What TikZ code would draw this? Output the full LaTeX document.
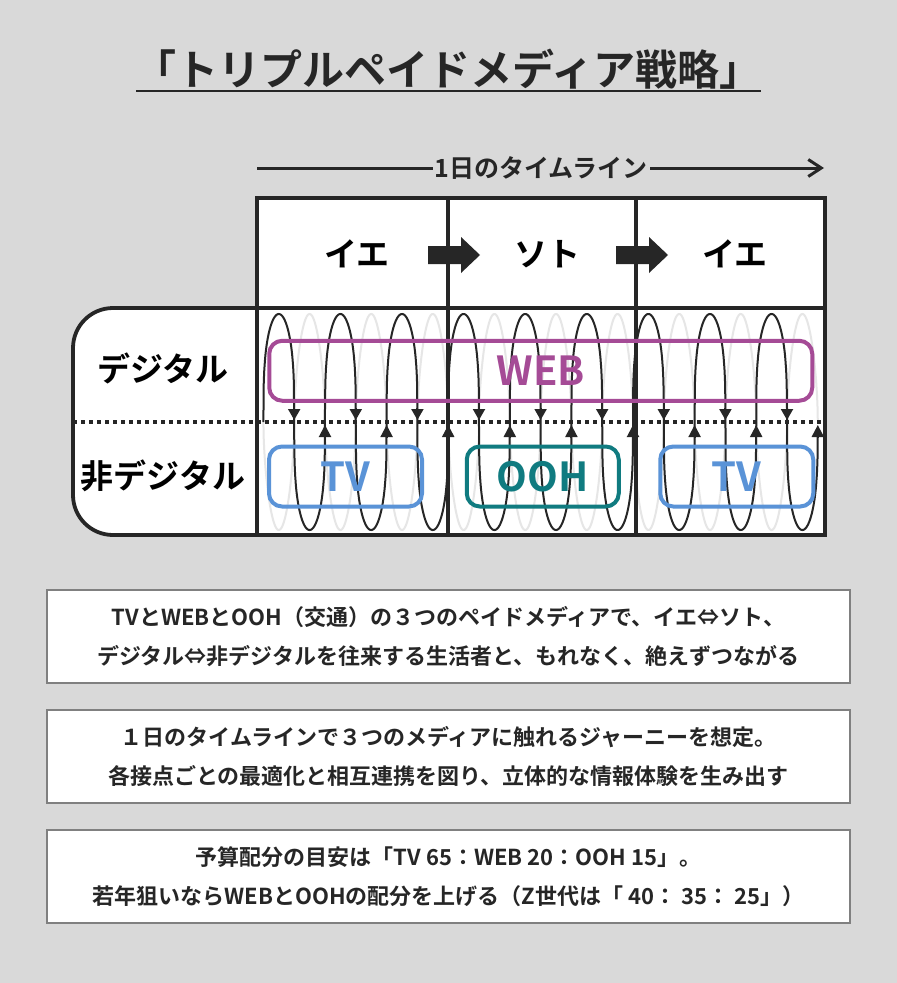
\documentclass[tikz,border=0pt]{standalone}
\usepackage{fontspec}
\setmainfont{Noto Sans CJK JP}[BoldFont={* Bold}]
\usepackage{tikz}
\usetikzlibrary{arrows.meta}
\definecolor{tpbg}{RGB}{217,217,217}
\definecolor{tpdark}{RGB}{38,38,38}
\definecolor{tppurple}{RGB}{165,75,150}
\definecolor{tpblue}{RGB}{90,147,215}
\definecolor{tpteal}{RGB}{16,123,128}
\definecolor{tpgray}{RGB}{128,128,128}
\definecolor{tpwave}{RGB}{230,230,230}

\begin{document}
\begin{tikzpicture}[x=1pt, y=-1pt,
    declare function={coil(\t)=sin(\t)*pow(abs(sin(\t))+0.0001,-0.7);
                      backcoil(\t)=sin(\t)*pow(abs(sin(\t))+0.0001,-0.45);},
    gridline/.style={draw=tpdark, line width=3.8pt},
    bigtext/.style={font=\bfseries\fontsize{33}{33}\selectfont, text=black},
    mediabox/.style={rounded corners=13pt, line width=4pt, minimum height=60pt, inner sep=0pt, font=\bfseries\fontsize{40}{40}\selectfont},
    notebox/.style={draw=tpgray, line width=2pt, fill=white, minimum width=803pt, minimum height=93pt, align=center, font=\bfseries\fontsize{22}{38.5}\selectfont, text=tpdark},
    wave/.style={line width=2pt, domain=263.4:817.8, samples=1800}
  ]
  % Background
  \fill[tpbg] (0,0) rectangle (897,983);
  \useasboundingbox (0,0) rectangle (897,983);

  % Title
  \node[font=\bfseries\fontsize{42}{42}\selectfont, text=tpdark] (title) at (448,69) {「トリプルペイドメディア戦略」};
  \draw[tpdark, line width=2.5pt] (136,91) -- (761,91);

  % Timeline
  \coordinate (tlstart) at (257,168);
  \coordinate (tlend) at (824,168);
  \draw[tpdark, line width=3pt, -{Straight Barb[length=13pt,width=17pt]}] (tlstart) -- (tlend);
  \node[fill=tpbg, inner sep=2pt, font=\bfseries\fontsize{25}{25}\selectfont, text=tpdark] (timeline) at (541,168) {1日のタイムライン};

  % Header row and body
  \filldraw[gridline, fill=white] (257,198) rectangle (825,308);
  \filldraw[gridline, fill=white] (825,308) -- (200,308) [rounded corners=40pt] -- (73,308) -- (73,535) -- (200,535) [sharp corners] -- (825,535) -- cycle;

  % Coil
  \draw[wave, tpwave] plot (\x, {422+108*backcoil(5.8442*(\x-263.4))});
  \draw[wave, tpdark] plot (\x, {422-108*coil(5.8442*(\x-263.4))});
  \foreach \k in {0,...,8} {
    \draw[tpdark, line width=2pt, -{Triangle[length=11pt,width=12pt]}] ({294.2+61.6*\k},408) -- ({294.2+61.6*\k},420);
    \draw[tpdark, line width=2pt, -{Triangle[length=12pt,width=12pt]}] ({325+61.6*\k},438) -- ({325+61.6*\k},425);
  }
  \draw[tpdark, line width=3.5pt, dash pattern=on 4pt off 4pt] (73,422) -- (825,422);

  % Dividers
  \draw[gridline] (257,308) -- (257,535);
  \draw[gridline] (448,198) -- (448,535);
  \draw[gridline] (636,198) -- (636,535);

  % Places
  \node[bigtext] (home1) at (357,254) {イエ};
  \node[bigtext] (out) at (547,254) {ソト};
  \node[bigtext] (home2) at (735,254) {イエ};
  \foreach \bx in {448,636} {
    \fill[tpdark] (\bx-20,246) -- (\bx+13,246) -- (\bx+13,237) -- (\bx+32,255) -- (\bx+13,273) -- (\bx+13,264) -- (\bx-20,264) -- cycle;
  }

  % Rows
  \node[bigtext] (digital) at (163,368) {デジタル};
  \node[bigtext] (nondigital) at (163,476) {非デジタル};

  % Media
  \node[mediabox, draw=tppurple, text=tppurple, minimum width=543pt] (web) at (540.75,370.75) {WEB};
  \node[mediabox, draw=tpblue, text=tpblue, minimum width=153pt] (tv1) at (345.5,476.5) {TV};
  \node[mediabox, draw=tpteal, text=tpteal, minimum width=152pt] (ooh) at (542.75,476.5) {OOH};
  \node[mediabox, draw=tpblue, text=tpblue, minimum width=153pt] (tv2) at (736.75,476.5) {TV};

  % Notes
  \node[notebox] (note1) at (448.5,636.5) {TVとWEBとOOH（交通）の３つのペイドメディアで、イエ⇔ソト、\\デジタル⇔非デジタルを往来する生活者と、もれなく、絶えずつながる};
  \node[notebox] (note2) at (448.5,756.5) {１日のタイムラインで３つのメディアに触れるジャーニーを想定。\\各接点ごとの最適化と相互連携を図り、立体的な情報体験を生み出す};
  \node[notebox] (note3) at (448.5,876.5) {予算配分の目安は「TV 65：WEB 20：OOH 15」。\\若年狙いならWEBとOOHの配分を上げる（Z世代は「 40： 35： 25」）};
\end{tikzpicture}
\end{document}
